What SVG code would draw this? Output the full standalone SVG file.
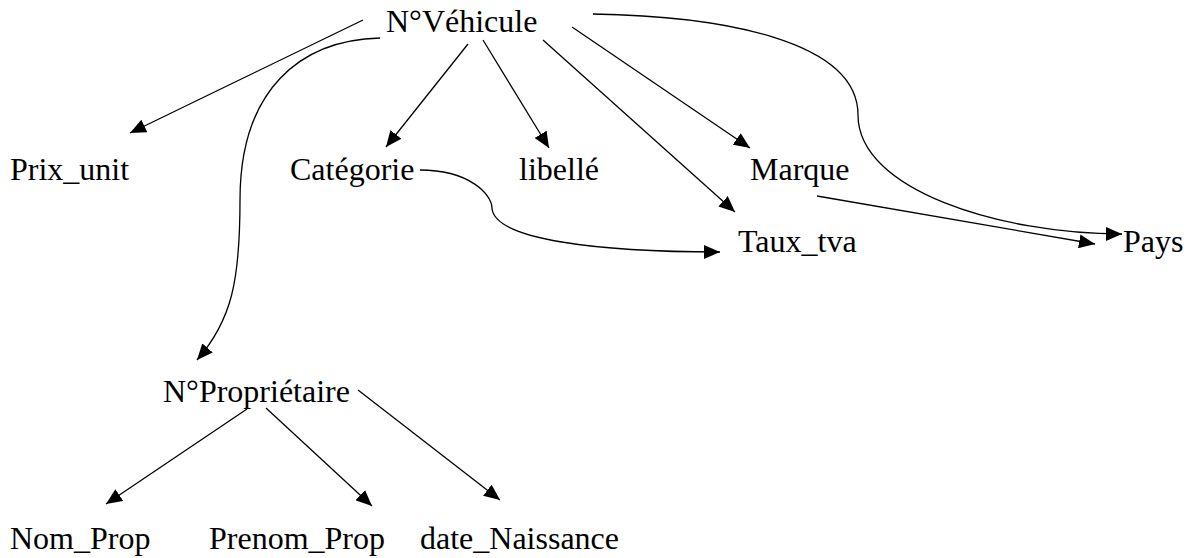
<svg xmlns="http://www.w3.org/2000/svg" width="1190" height="558" viewBox="0 0 1190 558">
<style>
text{font-family:'Liberation Serif','Times New Roman',Tinos,'DejaVu Serif',serif;font-size:32px;fill:#000}
.c{fill:none;stroke:#000;stroke-width:1.3}
</style>
<defs>
<marker id="a" markerUnits="userSpaceOnUse" markerWidth="18" markerHeight="14" refX="16" refY="7" orient="auto">
<path d="M0,0 L16,7 L0,14 Z" fill="#000"/>
</marker>
</defs>
<rect width="1190" height="558" fill="#fff"/>
<g id="connectors">
<path class="c" marker-end="url(#a)" d="M363,20 L130,133"/>
<path class="c" marker-end="url(#a)" d="M380,38 C300,40 240,90 240,200 C240,280 232,320 197,360"/>
<path class="c" marker-end="url(#a)" d="M468,44 L386,147"/>
<path class="c" marker-end="url(#a)" d="M483,40 L549,148"/>
<path class="c" marker-end="url(#a)" d="M543,40 L735,212"/>
<path class="c" marker-end="url(#a)" d="M572,27 L750,148"/>
<path class="c" marker-end="url(#a)" d="M593,14 C720,16 858,40 858,115 C858,190 1000,234 1122,234"/>
<path class="c" marker-end="url(#a)" d="M420,170 C470,170 492,195 492,208 C494,240 600,252 720,252"/>
<path class="c" marker-end="url(#a)" d="M817,196 L1095,244"/>
<path class="c" marker-end="url(#a)" d="M247,409 L106,504"/>
<path class="c" marker-end="url(#a)" d="M266,408 L372,506"/>
<path class="c" marker-end="url(#a)" d="M358,390 L500,500"/>
</g>
<g id="n-vehicule"><text x="386" y="32">N°Véhicule</text></g>
<g id="n-prix"><text x="10" y="180">Prix_unit</text></g>
<g id="n-categorie"><text x="290" y="180">Catégorie</text></g>
<g id="n-libelle"><text x="519" y="180">libellé</text></g>
<g id="n-marque"><text x="750" y="180">Marque</text></g>
<g id="n-taux"><text x="738" y="252">Taux_tva</text></g>
<g id="n-pays"><text x="1123" y="252">Pays</text></g>
<g id="n-proprietaire"><text x="163" y="402">N°Propriétaire</text></g>
<g id="n-nom"><text x="10" y="549">Nom_Prop</text></g>
<g id="n-prenom"><text x="209" y="549">Prenom_Prop</text></g>
<g id="n-date"><text x="420" y="549">date_Naissance</text></g>
</svg>
